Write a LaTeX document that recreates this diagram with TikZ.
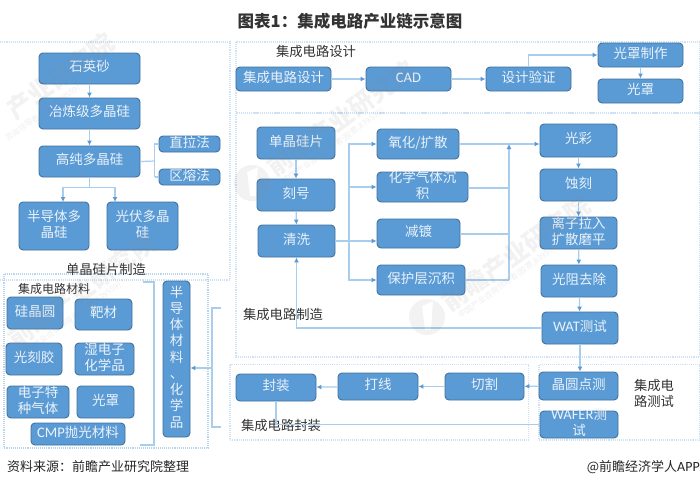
\documentclass[tikz,border=0pt]{standalone}
\usepackage{fontspec}
\setmainfont{Noto Sans CJK SC}
\newfontfamily\latinface[Scale=1.08]{Carlito}
\usetikzlibrary{arrows.meta}
\definecolor{boxfill}{HTML}{5B9BD5}
\definecolor{boxedge}{HTML}{41719C}
\definecolor{linkblue}{HTML}{A9CDEC}
\definecolor{tipblue}{HTML}{5B9BD5}
\definecolor{panelblue}{HTML}{CFE2F5}
\definecolor{boxtext}{HTML}{EAF2FA}
\definecolor{headtext}{HTML}{333333}
\definecolor{markgrey}{HTML}{808080}
\tikzset{
  x=1pt,y=-1pt,
  procbox/.style={draw=boxedge,fill=boxfill,line width=0.9pt,rounded corners=4pt,inner sep=0pt,text=boxtext},
  link/.style={draw=linkblue,line width=1.2pt},
  linkarrow/.style={link,-{Latex[length=5pt,width=5pt,color=tipblue]}},
  panel/.style={draw=panelblue,line width=1.1pt,densely dotted},
  heading/.style={text=headtext,inner sep=0pt,font=\fontsize{13.3}{16}\selectfont},
  markword/.style={text=markgrey,opacity=.10,rotate=36,anchor=west,inner sep=0pt,font=\fontsize{25}{25}\selectfont\bfseries},
  markline/.style={text=markgrey,opacity=.13,rotate=36,anchor=west,inner sep=0pt,font=\fontsize{8}{8}\selectfont},
}
% box given by its corners; the text may run past the edges, as it is smashed
\newcommand{\procnode}[6]{%
  \node[procbox,minimum width={(#4-#2)*1pt},minimum height={(#5-#3)*1pt}] (#1) at ({(#2+#4)/2},{(#3+#5)/2})
    {\fontsize{13.5}{15.7}\selectfont\raisebox{-7pt}{\smash{\begin{tabular}{@{}c@{}}#6\end{tabular}}}};}
\begin{document}
\begin{tikzpicture}
\useasboundingbox (0,0) rectangle (700,488);
\fill[white] (0,0) rectangle (700,488);

% section frames
\draw[panel] (-2,42) -- (230,42) -- (230,280) -- (-2,280);
\draw[panel] (236,42) rectangle (699.5,113);
\draw[panel] (236,113) rectangle (699.5,357);
\draw[panel] (230,364.5) rectangle (528.5,440);
\draw[panel] (539,364.5) rectangle (699.5,440);
\draw[panel,draw=panelblue!80!boxfill] (4,274) rectangle (208,448);

% heading and source lines
\node[inner sep=0pt,text=headtext,font=\fontsize{16.5}{18}\selectfont\bfseries] (title) at (350,21) {图表1：集成电路产业链示意图};
\node[inner sep=0pt,anchor=west,text=black!85,font=\fontsize{13}{15}\selectfont] (source) at (7,467) {资料来源：前瞻产业研究院整理};
\node[inner sep=0pt,anchor=east,text=black!85,font=\fontsize{13}{15}\selectfont] (brand) at (700,467) {@前瞻经济学人{\latinface APP}};

% section captions
\node[heading] (capwafer) at (106,269) {单晶硅片制造};
\node[heading,font=\fontsize{12}{14}\selectfont] (capmat) at (54,289) {集成电路材料};
\node[heading] (capdesign) at (316,51) {集成电路设计};
\node[heading] (capfab) at (283,314) {集成电路制造};
\node[heading] (cappack) at (281,425) {集成电路封装};
\node[heading,align=center] (captest) at (654,393) {集成电\\路测试};

% silicon preparation
\procnode{quartz}{39}{53}{140}{84}{石英砂}
\procnode{metal}{39}{98}{140}{129}{冶炼级多晶硅}
\procnode{pure}{39}{146}{140}{177}{高纯多晶硅}
\procnode{czoch}{159}{136}{220}{152}{直拉法}
\procnode{zone}{159}{169}{220}{185}{区熔法}
\procnode{semi}{19}{202}{89}{250}{半导体多\\晶硅}
\procnode{solar}{107}{202}{178}{250}{光伏多晶\\硅}

% materials
\procnode{wafer}{7}{297}{63}{329}{硅晶圆}
\procnode{target}{75}{299}{132}{330}{靶材}
\procnode{resist}{6}{343}{62}{375}{光刻胶}
\procnode{wetchem}{75}{343}{134}{375}{湿电子\\化学品}
\procnode{gas}{7}{386}{69}{418}{电子特\\种气体}
\procnode{maskmat}{77}{386}{134}{418}{光罩}
\procnode{cmp}{31}{423}{125}{445}{{\latinface CMP}抛光材料}
\renewcommand{\arraystretch}{1.035}
\procnode{matbar}{163}{281}{190}{437}{半\\导\\体\\材\\料\\、\\化\\学\\品}
\renewcommand{\arraystretch}{1}

% design
\procnode{icd}{236}{67}{331}{91}{集成电路设计}
\procnode{cad}{366}{67}{451}{91}{{\latinface CAD}}
\procnode{verify}{486}{67}{571}{91}{设计验证}
\procnode{maskmake}{598}{43}{683}{67}{光罩制作}
\procnode{mask}{598}{79}{683}{103}{光罩}

% fabrication
\procnode{slice}{257}{127}{335}{159}{单晶硅片}
\procnode{scribe}{257}{179}{335}{211}{刻号}
\procnode{clean}{258}{225}{335}{257}{清洗}
\procnode{oxide}{377}{129}{459}{159}{氧化/扩散}
\procnode{cvd}{377}{172}{468}{202}{化学气体沉\\积}
\procnode{plate}{377}{219}{460}{248}{减镀}
\procnode{protect}{377}{265}{465}{295}{保护层沉积}
\procnode{photo}{540}{124}{617}{157}{光彩}
\procnode{etch}{540}{169}{617}{201}{蚀刻}
\procnode{ion}{540}{217}{617}{249}{离子拉入\\扩散磨平}
\procnode{strip}{541}{265}{617}{297}{光阻去除}
\procnode{wat}{542}{312}{618}{344}{{\latinface WAT}测试}

% test and packaging
\procnode{probe}{539}{372}{618}{400}{晶圆点测}
\procnode{wtest}{540}{411}{618}{438}{{\latinface WAFER}测\\试}
\procnode{dice}{445}{373}{524}{400}{切割}
\procnode{bond}{338}{373}{418}{400}{打线}
\procnode{pack}{236}{374}{316}{401}{封装}

% silicon connectors
\draw[linkarrow] (quartz) -- (metal);
\draw[linkarrow] (metal) -- (pure);
\coordinate (fork) at (155,161);
\draw[link] (pure.east) -- (fork);
\draw[link] (czoch.west) -- ++(-4,0) -- ++(0,33);
\draw[link] (zone.west) -- ++(-4,0);
\coordinate (semitop) at (63,202);
\coordinate (solartop) at (115,202);
\coordinate (splitpt) at (89.5,187.5);
\draw[link] (pure.south) -- (splitpt);
\draw[linkarrow] (splitpt) -| (semitop);
\draw[linkarrow] (splitpt) -| (solartop);

% bracket around the materials and its link to the summary bar
\coordinate (bracktop) at (143,282);
\coordinate (brackbot) at (140,445);
\draw[link] (bracktop) -- (154,282) -- (154,445) -- (brackbot);
\coordinate (matjoin) at (212,368);
\draw[link] (221,308) -- (212,308) -- (212,427) -- (221,427);
\draw[linkarrow] (matjoin) -- (matjoin -| matbar.east);

% design connectors
\draw[linkarrow] (icd) -- (cad);
\draw[linkarrow] (cad) -- (verify);
\draw[linkarrow] (verify.north) |- (maskmake.west);
\draw[linkarrow] (maskmake) -- (mask);

% fabrication connectors
\draw[linkarrow] (slice) -- (scribe);
\draw[linkarrow] (scribe) -- (clean);
\coordinate (spine) at (349,241);
\draw[linkarrow] (clean.east |- spine) -- (spine -| plate.west);
\draw[linkarrow] (spine) |- (oxide.west);
\draw[linkarrow] (spine) |- (cvd.west);
\draw[linkarrow] (spine) |- (protect.west);
\coordinate (collect) at (509,280);
\draw[linkarrow] (oxide.east) -- (oxide.east -| photo.west);
\draw[link] (protect.east |- collect) -- (collect);
\draw[linkarrow] (collect) -- (509,144);
\draw[link] (cvd.east |- 509,188) -- (509,188);
\draw[link] (plate.east |- 509,234) -- (509,234);
\draw[linkarrow] (photo) -- (etch);
\draw[linkarrow] (etch) -- (ion);
\draw[linkarrow] (ion) -- (strip);
\draw[linkarrow] (strip) -- (wat);
\draw[linkarrow] (wat.west) -| (clean.south);

% test and packaging connectors
\draw[linkarrow] (wat.south) -- (probe.north -| wat.south);
\draw[linkarrow] (probe) -- (dice);
\draw[linkarrow] (dice) -- (bond);
\draw[linkarrow] (bond) -- (pack);
\draw[link] (wtest.west) -| (pack.south);

% publisher watermarks
\fill[markgrey,opacity=.10,even odd rule] (252,183) circle (18)
  (247,172) -- (258,167) -- (256,196) -- (250,196) -- cycle;
\node[markword] (markA) at (270,170) {前瞻产业研究院};
\node[markline] (markAsub) at (284,182) {中国产业咨询领导者(股票,839559)};
\fill[markgrey,opacity=.10,even odd rule] (427,317) circle (18)
  (422,306) -- (433,301) -- (431,330) -- (425,330) -- cycle;
\node[markword] (markB) at (445,305) {前瞻产业研究院};
\node[markline] (markBsub) at (459,317) {中国产业咨询领导者(股票,839559)};
\node[markword] (markC) at (10,113) {产业研究院};
\node[markline] (markCsub) at (6,140) {咨询领导者(股票,839559)};
\node[markword] (markD) at (11,342) {前瞻产业研究院};
\node[markline] (markDsub) at (21,356) {中国产业咨询领导者(股票,839559)};
\end{tikzpicture}
\end{document}
